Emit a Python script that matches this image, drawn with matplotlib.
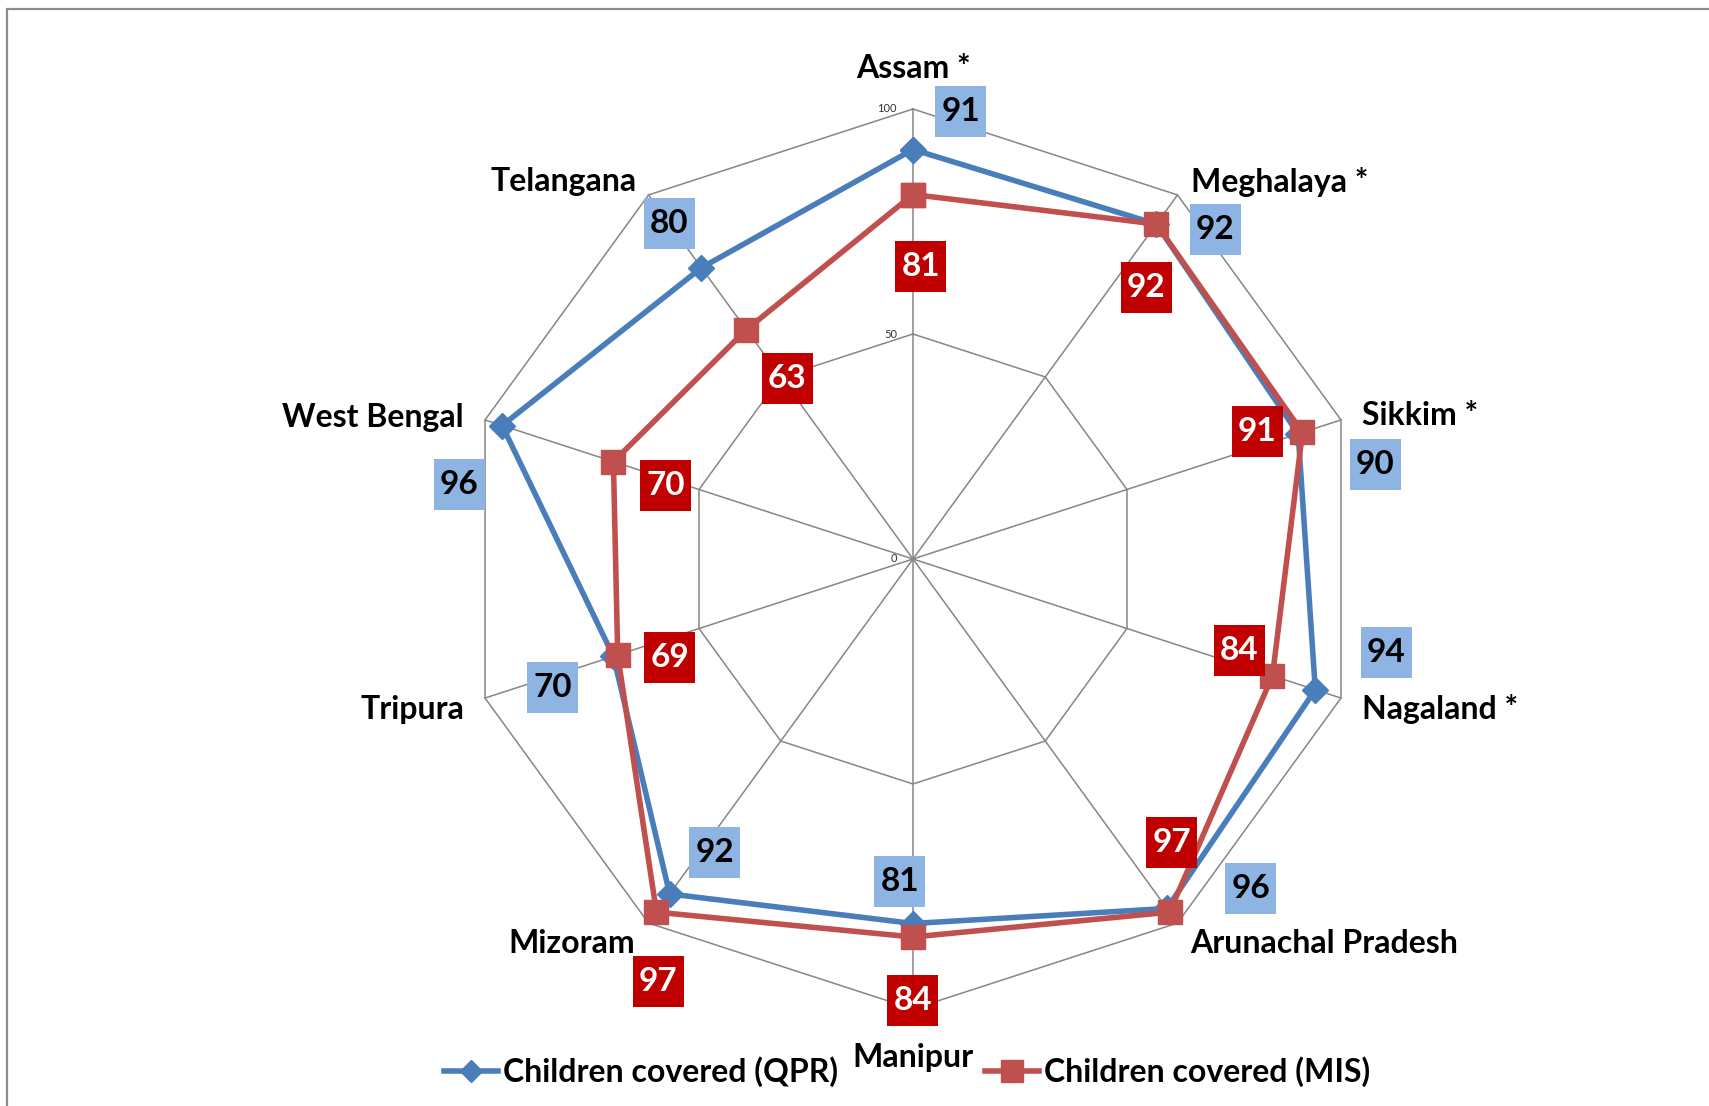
import numpy as np
import matplotlib.pyplot as plt
from matplotlib.patches import Rectangle
from matplotlib.path import Path

# data (clockwise from the top)
states = ['Assam *', 'Meghalaya *', 'Sikkim *', 'Nagaland *', 'Arunachal Pradesh',
          'Manipur', 'Mizoram', 'Tripura', 'West Bengal', 'Telangana']
qpr = [91, 92, 90, 94, 96, 81, 92, 70, 96, 80]
mis = [81, 92, 91, 84, 97, 84, 97, 69, 70, 63]
ring_ticks = [0, 50, 100]

# label placement (pixels, y down), hand tuned to match the excel layout
qpr_off = [(48, -38), (59, 5), (77, 31), (71, -37), (84, -20),
           (-13, -42), (45, -41), (-61, 31), (-43, 59), (-32, -44)]
mis_off = [(8, 72), (-10, 63), (-45, -1), (-33, -25), (2, -70),
           (0, 63), (2, 69), (52, 3), (52, 24), (41, 49)]
cat_off = [((0, -41), 'center'), ((13, -13), 'left'), ((21, -4), 'left'),
           ((21, 11), 'left'), ((13, 20), 'left'), ((0, 49), 'center'),
           ((-13, 20), 'right'), ((-21, 11), 'right'), ((-21, -2), 'right'),
           ((-12, -13), 'right')]

blue = '#4A7EBB'
red = '#C0504D'
grid_c = '#868686'
font = ['Lato', 'DejaVu Sans']


def fixed_box(x0, y0, width, height, mutation_size):
    # excel data labels: fixed ~51x51 px box centred on the text
    cx, cy = x0 + width / 2, y0 + height / 2
    h = 25.5
    return Path([(cx - h, cy - h), (cx + h, cy - h), (cx + h, cy + h),
                 (cx - h, cy + h), (cx - h, cy - h)], closed=True)


W, H = 1709, 1106
fig = plt.figure(figsize=(W / 100, H / 100), dpi=100)
fig.patches.append(Rectangle((7 / W, -0.1), 1.2, 1.1 - 9 / H, transform=fig.transFigure,
                             fill=False, ec='#8C8C8C', lw=1.6))

cx, cy, R = 913, 559, 450
ax = fig.add_axes([(cx - R) / W, (H - cy - R) / H, 2 * R / W, 2 * R / H], projection='polar')
ax.set_theta_zero_location('N')
ax.set_theta_direction(-1)
ax.set_ylim(0, 100)
ax.grid(False)
ax.set_xticks([])
ax.set_yticks([])
ax.spines['polar'].set_visible(False)
ax.patch.set_visible(False)

n = len(states)
theta = np.arange(n) * 2 * np.pi / n
closed = np.append(theta, theta[0])

# polygon grid + spokes
for r in ring_ticks[1:]:
    ax.plot(closed, [r] * (n + 1), color=grid_c, lw=1.1, zorder=1, clip_on=False)
for t in theta:
    ax.plot([t, t], [0, ring_ticks[-1]], color=grid_c, lw=1.1, zorder=1, clip_on=False)
for r in ring_ticks:
    ax.annotate(str(r), (0, r), xytext=(-16, 0), textcoords='offset pixels',
                ha='right', va='center', fontsize=8, family=font, color='#333333')

ax.plot(closed, np.append(qpr, qpr[0]), color=blue, lw=4, marker='D', ms=13,
        zorder=3, clip_on=False, label='Children covered (QPR)')
ax.plot(closed, np.append(mis, mis[0]), color=red, lw=4, marker='s', ms=17,
        zorder=4, clip_on=False, label='Children covered (MIS)')

for i in range(n):
    dx, dy = qpr_off[i]
    ax.annotate(str(qpr[i]), (theta[i], qpr[i]), xytext=(dx, -dy), textcoords='offset pixels',
                ha='center', va='center', fontsize=24, fontweight='bold', family=font,
                color='black', zorder=6,
                bbox=dict(boxstyle=fixed_box, fc='#8DB4E2', ec='none'))
    dx, dy = mis_off[i]
    ax.annotate(str(mis[i]), (theta[i], mis[i]), xytext=(dx, -dy), textcoords='offset pixels',
                ha='center', va='center', fontsize=24, fontweight='bold', family=font,
                color='white', zorder=6,
                bbox=dict(boxstyle=fixed_box, fc='#C00000', ec='none'))
    (dx, dy), ha = cat_off[i]
    ax.annotate(states[i], (theta[i], 100), xytext=(dx, -dy), textcoords='offset pixels',
                ha=ha, va='center', fontsize=23, fontweight='bold', family=font, color='black')

fig.legend(loc='center', bbox_to_anchor=(907 / W, 0.031), ncol=2, frameon=False,
           prop={'family': font, 'size': 23, 'weight': 'bold'},
           handlelength=1.7, handletextpad=0.15, columnspacing=4.6, markerscale=0.9)

fig.savefig('out.png', dpi=100)
